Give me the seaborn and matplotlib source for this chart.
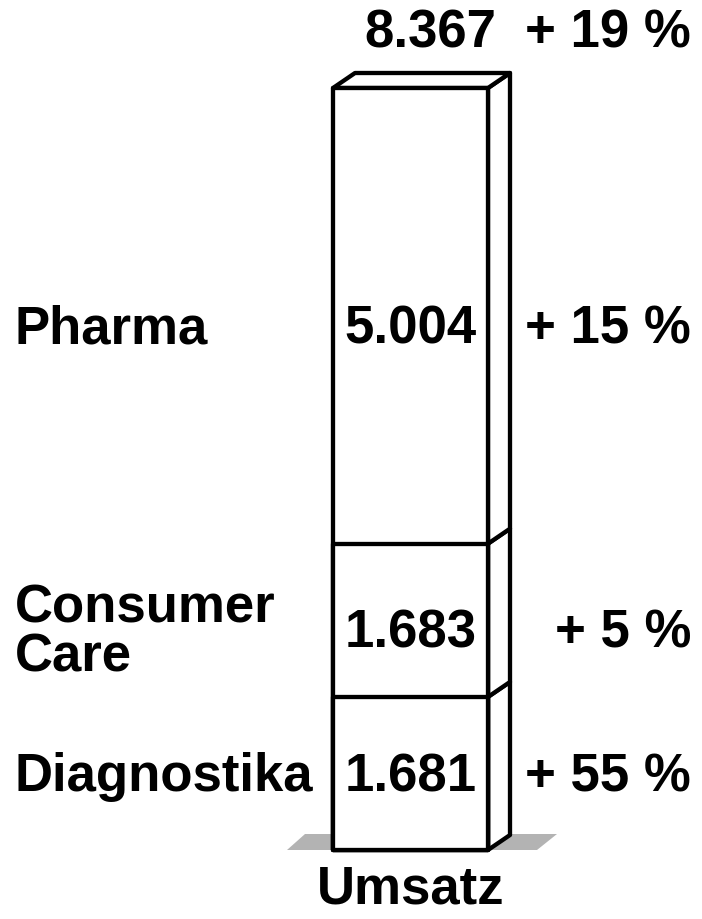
import matplotlib
matplotlib.use('Agg')
import matplotlib.pyplot as plt
import matplotlib.transforms as mtransforms
from matplotlib.patches import Polygon
import seaborn as sns

# data
segments = ["Diagnostika", "Consumer\nCare", "Pharma"]
values = [1681, 1683, 5004]
value_labels = ["1.681", "1.683", "5.004"]
growth = ["+ 55 %", "+ 5 %", "+ 15 %"]
total_label = "8.367"
total_growth = "+ 19 %"
category = "Umsatz"

sns.set_theme(style="white")
plt.rcParams['font.family'] = ['Liberation Sans', 'DejaVu Sans']
plt.rcParams['font.weight'] = 'bold'
plt.rcParams['text.color'] = 'black'

W, H = 702, 920
fig = plt.figure(figsize=(W / 100, H / 100), dpi=100)
ax = fig.add_axes([0, 0, 1, 1])

# pixel layout of the bar
bar_w = 0.8
px_x = 155 / bar_w          # pixels per x unit
bar_cx = 410.5
base_px, top_px = 851, 89
total = sum(values)
px_y = (base_px - top_px) / total   # pixels per value unit
depth_x = 22 / px_x
depth_y = 15 / px_y
lw = 3.1

# floor shadow
sh_h = 16 / px_y
xl, xr = -bar_w / 2, bar_w / 2
shadow = Polygon([(xl - 46 / px_x, 0), (xr + 49 / px_x, 0),
                  (xr + 69 / px_x, sh_h), (xl - 28 / px_x, sh_h)],
                 closed=True, facecolor="#b3b3b3", edgecolor="none", zorder=0)
ax.add_patch(shadow)

# stacked bar: draw cumulative totals from largest down
cums = []
acc = 0
for v in values:
    acc += v
    cums.append(acc)
for c in reversed(cums):
    sns.barplot(x=[category], y=[c], color="white", saturation=1,
                edgecolor="black", linewidth=lw, width=bar_w,
                errorbar=None, ax=ax, zorder=2)
for p in ax.patches:
    p.set_joinstyle("round")

# side faces and top face
bottoms = [0] + cums[:-1]
for b, t in zip(bottoms, cums):
    side = Polygon([(xr, b), (xr + depth_x, b + depth_y),
                    (xr + depth_x, t + depth_y), (xr, t)],
                   closed=True, facecolor="white", edgecolor="black",
                   linewidth=lw, joinstyle="round", zorder=1)
    ax.add_patch(side)
top = cums[-1]
top_face = Polygon([(xl, top), (xl + depth_x, top + depth_y),
                    (xr + depth_x, top + depth_y), (xr, top)],
                   closed=True, facecolor="white", edgecolor="black",
                   linewidth=lw, joinstyle="round", zorder=1)
ax.add_patch(top_face)

ax.set_xlim(-bar_cx / px_x, (W - bar_cx) / px_x)
ax.set_ylim(-(H - base_px) / px_y, base_px / px_y)
ax.axis("off")

fs = 38
left_tr = mtransforms.blended_transform_factory(ax.transAxes, ax.transData)
y_shift = [-3 / px_y, -12 / px_y, -13 / px_y]
for b, t, name, vl, g, s in zip(bottoms, cums, segments, value_labels, growth, y_shift):
    mid = (b + t) / 2 + s
    ax.text(15 / W, mid, name, transform=left_tr, ha="left", va="center",
            fontsize=fs, fontweight="bold", linespacing=0.97, zorder=5)
    ax.text(0, mid, vl, ha="center", va="center", fontsize=fs,
            fontweight="bold", zorder=5)
    ax.text(691 / W, mid, g, transform=left_tr, ha="right", va="center",
            fontsize=fs, fontweight="bold", zorder=5)

ax.text(496 / W, 1 - 33 / H, total_label, transform=ax.transAxes,
        ha="right", va="center", fontsize=fs, fontweight="bold")
ax.text(691 / W, 1 - 33 / H, total_growth, transform=ax.transAxes,
        ha="right", va="center", fontsize=fs, fontweight="bold")
ax.text(0, 1 - 890 / H, category, transform=mtransforms.blended_transform_factory(ax.transData, ax.transAxes),
        ha="center", va="center", fontsize=fs, fontweight="bold")

fig.savefig("out.png", dpi=100, facecolor="white")
